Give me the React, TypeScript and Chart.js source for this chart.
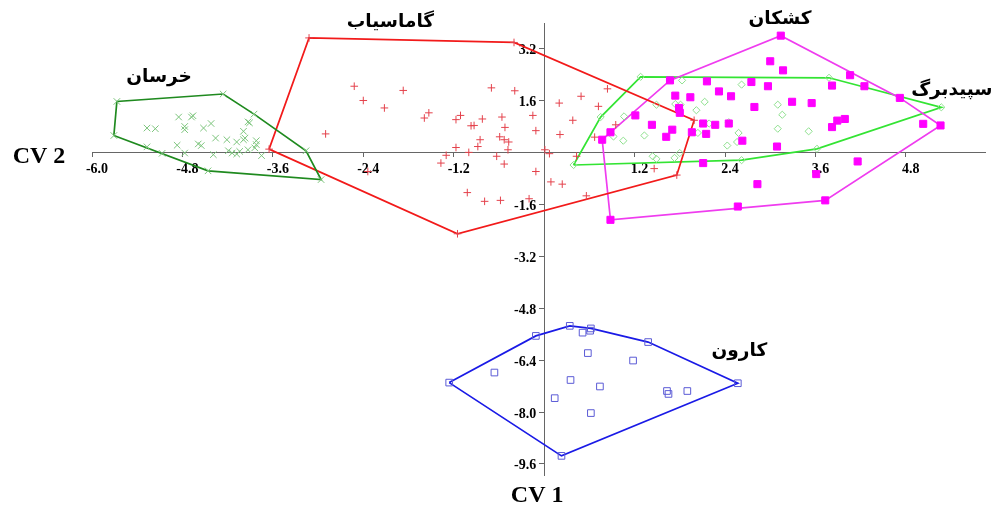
import React, { useEffect, useRef } from "react";
import { Chart, registerables } from "chart.js";

Chart.register(...registerables);

// ---- Data (CV1 = x, CV2 = y) ----
const khorasanX = [-5.67, -4.26, -3.85, -3.93, -3.91, -4.85, -4.68, -4.66, -5.27, -5.16, -4.77, -4.77, -4.52, -4.42, -3.99, -4.36, -4.21, -4.08, -3.99, -3.97, -3.82, -3.82, -4.59, -4.55, -4.87, -5.27, -5.07, -4.77, -4.39, -4.19, -4.14, -4.08, -4.04, -3.93, -3.84, -3.75, -3.16, -2.96, -4.46, -5.71];
const khorasanY = [1.58, 1.81, 1.19, 0.95, 0.92, 1.10, 1.10, 1.14, 0.76, 0.74, 0.81, 0.71, 0.76, 0.90, 0.66, 0.45, 0.40, 0.33, 0.40, 0.45, 0.37, 0.25, 0.27, 0.22, 0.23, 0.18, -0.02, -0.01, -0.06, 0.06, -0.01, -0.04, 0.04, 0.09, 0.15, -0.09, 0.06, -0.83, -0.56, 0.53];

const gamasiabX = [-3.12, -0.40, 1.99, 1.76, -1.15, -3.65, -2.52, -1.87, -0.70, -0.39, -2.40, -2.12, -1.53, -1.59, -1.17, -1.11, -0.97, -0.93, -0.82, -0.56, -0.15, -0.52, -0.11, -2.90, -0.85, -0.88, -0.59, -0.53, -0.47, -0.48, -1.17, -1.00, -1.30, -1.37, -0.63, -0.53, -0.11, -2.34, 0.01, 0.07, 0.20, 0.21, 0.09, 0.24, -1.02, -0.79, -0.58, -0.20, 0.84, 0.49, 0.72, 0.38, 0.95, 0.67, 0.43, 0.56, 1.46];
const gamasiabY = [3.54, 3.40, 1.00, -0.69, -2.50, 0.11, 2.05, 1.92, 2.00, 1.91, 1.61, 1.38, 1.23, 1.07, 1.02, 1.15, 0.83, 0.84, 1.04, 1.10, 1.15, 0.78, 0.68, 0.58, 0.40, 0.19, 0.49, 0.40, 0.33, 0.09, 0.16, 0.01, -0.08, -0.32, -0.11, -0.35, -0.58, -0.58, 0.09, -0.03, 1.53, 0.56, -0.90, -0.97, -1.23, -1.50, -1.47, -1.42, 1.97, 1.74, 1.43, 1.00, 0.86, 0.48, -0.11, -1.33, -0.49];

const kashkanX = [0.77, 0.88, 1.67, 2.16, 2.32, 1.74, 1.94, 1.79, 1.80, 1.21, 1.43, 1.70, 1.62, 2.11, 2.27, 1.96, 2.15, 2.11, 0.88, 3.14, 3.00, 3.17, 4.06, 4.25, 3.82, 2.75, 2.97, 2.48, 2.79, 3.29, 3.55, 4.72, 3.89, 3.99, 3.82, 5.03, 5.26, 2.45, 2.63, 3.09, 4.16, 3.61, 2.83, 3.73, 2.57];
const kashkanY = [0.40, 0.63, 2.23, 2.20, 1.89, 1.76, 1.71, 1.38, 1.23, 1.15, 0.86, 0.71, 0.49, 0.90, 0.86, 0.63, 0.58, -0.32, -2.07, 3.61, 2.82, 2.54, 2.39, 2.05, 2.07, 2.18, 2.05, 1.74, 1.41, 1.57, 1.53, 1.69, 0.99, 1.04, 0.79, 0.89, 0.84, 0.90, 0.37, 0.19, -0.27, -0.66, -0.97, -1.47, -1.66];

const sepidbargX = [1.28, 1.83, 1.49, 1.74, 1.81, 2.13, 2.02, 1.06, 0.75, 0.92, 1.33, 1.05, 2.04, 2.19, 1.44, 1.49, 1.73, 1.80, 0.39, 2.62, 3.10, 3.16, 3.10, 3.51, 2.58, 2.56, 2.43, 2.45, 2.62, 3.78, 5.27, 3.62];
const sepidbargY = [2.34, 2.23, 1.48, 1.50, 1.48, 1.57, 1.31, 1.12, 1.10, 0.50, 0.53, 0.37, 0.61, 0.90, -0.11, -0.19, -0.16, -0.01, -0.38, 2.10, 1.48, 1.17, 0.74, 0.66, 0.61, 0.33, 0.22, 0.94, -0.23, 2.31, 1.40, 0.12];

const karunX = [-1.26, -0.11, 0.34, 0.51, 0.61, 0.62, 1.38, 2.57, 0.23, -0.66, 0.58, 1.18, 0.35, 0.74, 0.14, 0.62, 1.63, 1.65, 1.90];
const karunY = [-7.09, -5.65, -5.34, -5.55, -5.49, -5.42, -5.84, -7.11, -9.35, -6.78, -6.18, -6.41, -7.01, -7.21, -7.57, -8.03, -7.35, -7.44, -7.35];

const xTicks = [-6.0, -4.8, -3.6, -2.4, -1.2, 1.2, 2.4, 3.6, 4.8];
const yTicks = [3.2, 1.6, -1.6, -3.2, -4.8, -6.4, -8.0, -9.6];

const groupNames = ["خرسان", "گاماسیاب", "کشکان", "سپیدبرگ", "کارون"];
const groupLabelX = [-5.11, -2.04, 3.13, 5.95, 2.59];
const groupLabelY = [2.32, 4.04, 4.11, 1.94, -6.11];
const groupLabelAlign: CanvasTextAlign[] = ["center", "center", "center", "right", "center"];

const xTitle = "CV 1";
const yTitle = "CV 2";

type P = { x: number; y: number };

function zipPts(xs: number[], ys: number[]): P[] {
  return xs.map((x, i) => ({ x, y: ys[i] }));
}

function convexHull(pts: P[]): P[] {
  const p = [...pts].sort((a, b) => a.x - b.x || a.y - b.y);
  const cross = (o: P, a: P, b: P) => (a.x - o.x) * (b.y - o.y) - (a.y - o.y) * (b.x - o.x);
  const lower: P[] = [];
  for (const q of p) {
    while (lower.length >= 2 && cross(lower[lower.length - 2], lower[lower.length - 1], q) <= 0) lower.pop();
    lower.push(q);
  }
  const upper: P[] = [];
  for (let i = p.length - 1; i >= 0; i--) {
    const q = p[i];
    while (upper.length >= 2 && cross(upper[upper.length - 2], upper[upper.length - 1], q) <= 0) upper.pop();
    upper.push(q);
  }
  upper.pop();
  lower.pop();
  const h = lower.concat(upper);
  h.push(h[0]);
  return h;
}

const groups = [
  { xs: khorasanX, ys: khorasanY, style: "crossRot", r: 4.6, border: "#7cc47c", fill: "rgba(0,0,0,0)", hull: "#1f8a1f" },
  { xs: gamasiabX, ys: gamasiabY, style: "cross", r: 3.8, border: "#e4424c", fill: "rgba(0,0,0,0)", hull: "#f21a1a" },
  { xs: kashkanX, ys: kashkanY, style: "rect", r: 5, border: "#ff00ff", fill: "#ff00ff", hull: "#ef3cef" },
  { xs: sepidbargX, ys: sepidbargY, style: "rectRot", r: 3.6, border: "#8ee08e", fill: "rgba(255,255,255,0)", hull: "#33e433" },
  { xs: karunX, ys: karunY, style: "rect", r: 4.7, border: "#5b5bd6", fill: "rgba(255,255,255,0)", hull: "#1a1ae6" },
];

const tickFont = 'bold 14px "Liberation Serif", "Times New Roman", serif';
const titleFont = 'bold 24px "Liberation Serif", "Times New Roman", serif';
const groupFont = 'bold 18.5px "DejaVu Sans", "Noto Sans", sans-serif';

const overlayPlugin = {
  id: "overlay",
  beforeDatasetsDraw(chart: any) {
    const { ctx, scales } = chart;
    const xs = scales.x;
    const ys = scales.y;
    const x0 = xs.getPixelForValue(0);
    const y0 = ys.getPixelForValue(0);
    ctx.save();
    ctx.fillStyle = "#000";
    ctx.font = tickFont;
    ctx.textBaseline = "alphabetic";
    ctx.textAlign = "center";
    xTicks.forEach((v) => ctx.fillText(v.toFixed(1), xs.getPixelForValue(v) + 5, y0 + 20));
    ctx.textAlign = "right";
    yTicks.forEach((v) => ctx.fillText(v.toFixed(1), x0 - 8, ys.getPixelForValue(v) + 5.5));
    ctx.restore();
  },
  afterDraw(chart: any) {
    const { ctx, scales, chartArea } = chart;
    const xs = scales.x;
    const ys = scales.y;
    ctx.save();
    ctx.fillStyle = "#000";
    ctx.font = titleFont;
    ctx.textBaseline = "middle";
    ctx.textAlign = "center";
    ctx.fillText(yTitle, chartArea.left - 53, ys.getPixelForValue(0) + 4);
    ctx.fillText(xTitle, xs.getPixelForValue(0) - 7, chartArea.bottom + 21);
    ctx.font = groupFont;
    ctx.direction = "rtl";
    groupNames.forEach((name, i) => {
      ctx.textAlign = groupLabelAlign[i];
      ctx.fillText(name, xs.getPixelForValue(groupLabelX[i]), ys.getPixelForValue(groupLabelY[i]));
    });
    ctx.restore();
  },
};

export default function App() {
  const ref = useRef<HTMLCanvasElement>(null);
  useEffect(() => {
    document.body.style.margin = "0";
    const canvas = ref.current;
    if (!canvas) return;
    const datasets: any[] = [];
    groups.forEach((g) => {
      const pts = zipPts(g.xs, g.ys);
      datasets.push({
        data: pts,
        pointStyle: g.style,
        pointRadius: g.r,
        pointBorderWidth: 1,
        pointBorderColor: g.border,
        pointBackgroundColor: g.fill,
        borderColor: g.border,
        backgroundColor: g.fill,
        showLine: false,
        order: 0,
      });
      datasets.push({
        data: convexHull(pts),
        showLine: true,
        pointRadius: 0,
        borderColor: g.hull,
        borderWidth: 1.7,
        fill: false,
        tension: 0,
        order: 1,
      });
    });
    const axisColor = "#666";
    const chart = new Chart(canvas, {
      type: "scatter",
      data: { datasets },
      plugins: [overlayPlugin],
      options: {
        animation: false,
        responsive: false,
        maintainAspectRatio: false,
        events: [],
        layout: { padding: { left: 92, right: 4, top: 23, bottom: 34 } },
        plugins: { legend: { display: false }, tooltip: { enabled: false } },
        scales: {
          x: {
            type: "linear",
            min: -6.0,
            max: 5.85,
            position: { y: 0 } as any,
            grid: { drawOnChartArea: false, drawTicks: true, tickLength: 4, color: axisColor },
            border: { display: true, color: axisColor, width: 1 },
            ticks: { display: false },
            afterBuildTicks: (axis: any) => {
              axis.ticks = xTicks.map((v) => ({ value: v }));
            },
          },
          y: {
            type: "linear",
            min: -9.94,
            max: 4.0,
            position: { x: 0 } as any,
            grid: { drawOnChartArea: false, drawTicks: true, tickLength: 5, color: axisColor },
            border: { display: true, color: axisColor, width: 1 },
            ticks: { display: false },
            afterBuildTicks: (axis: any) => {
              axis.ticks = yTicks.map((v) => ({ value: v }));
            },
          },
        },
      } as any,
    });
    return () => chart.destroy();
  }, []);
  return (
    <div style={{ position: "relative", width: 991, height: 509, background: "#fff" }}>
      <canvas ref={ref} width={991} height={509} style={{ display: "block", width: 991, height: 509 }} />
    </div>
  );
}
